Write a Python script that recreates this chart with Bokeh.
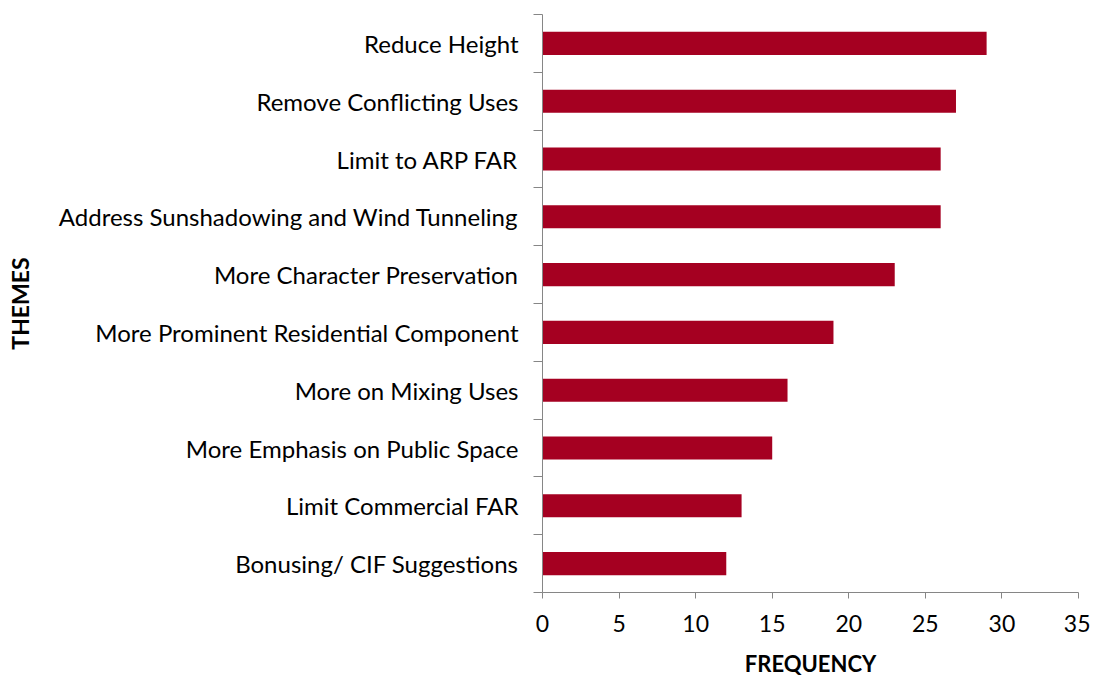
from bokeh.plotting import figure
from bokeh.models import FixedTicker, Range1d
from bokeh.embed import file_html
from bokeh.resources import INLINE

themes = ["Reduce Height", "Remove Conflicting Uses", "Limit to ARP FAR",
          "Address Sunshadowing and Wind Tunneling", "More Character Preservation",
          "More Prominent Residential Component", "More on Mixing Uses",
          "More Emphasis on Public Space", "Limit Commercial FAR",
          "Bonusing/ CIF Suggestions"]
frequency = [29, 27, 26, 26, 23, 19, 16, 15, 13, 12]
x_ticks = [0, 5, 10, 15, 20, 25, 30, 35]

n = len(themes)
ypos = [n - 0.5 - i for i in range(n)]

FONT = "Lato"

p = figure(width=1090, height=679, output_backend="svg", toolbar_location=None,
           x_range=Range1d(0, 35), y_range=Range1d(0, n),
           min_border_left=542, min_border_right=12, min_border_top=14,
           min_border_bottom=87)
p.outline_line_color = None
p.grid.grid_line_color = None
p.background_fill_color = "white"

p.hbar(y=ypos, right=frequency, left=0, height=0.4, color="#A50021", line_color=None)

# x axis
p.xaxis.ticker = FixedTicker(ticks=x_ticks)
p.xaxis.axis_line_color = "#868686"
p.xaxis.major_tick_line_color = "#868686"
p.xaxis.major_tick_out = 6
p.xaxis.major_tick_in = 0
p.xaxis.minor_tick_line_color = None
p.xaxis.major_label_text_font = FONT
p.xaxis.major_label_text_font_size = "23px"
p.xaxis.major_label_text_color = "black"
p.xaxis.major_label_standoff = 16
p.xaxis.axis_label = "FREQUENCY"
p.xaxis.axis_label_text_font = FONT
p.xaxis.axis_label_text_font_style = "bold"
p.xaxis.axis_label_text_font_size = "22px"
p.xaxis.axis_label_text_color = "black"
p.xaxis.axis_label_standoff = 15

# y axis
p.yaxis.ticker = FixedTicker(ticks=ypos, minor_ticks=list(range(n + 1)))
p.yaxis.major_label_overrides = {ypos[i]: themes[i] for i in range(n)}
p.yaxis.axis_line_color = "#868686"
p.yaxis.major_tick_line_color = None
p.yaxis.major_tick_out = 0
p.yaxis.major_tick_in = 0
p.yaxis.minor_tick_line_color = "#868686"
p.yaxis.minor_tick_out = 9
p.yaxis.minor_tick_in = 0
p.yaxis.major_label_text_font = FONT
p.yaxis.major_label_text_font_size = "24px"
p.yaxis.major_label_text_color = "black"
p.yaxis.major_label_standoff = 15
p.yaxis.axis_label = "THEMES"
p.yaxis.axis_label_text_font = FONT
p.yaxis.axis_label_text_font_style = "bold"
p.yaxis.axis_label_text_font_size = "23px"
p.yaxis.axis_label_text_color = "black"
p.yaxis.axis_label_standoff = 22

open("out.html", "w").write(file_html(p, INLINE))
